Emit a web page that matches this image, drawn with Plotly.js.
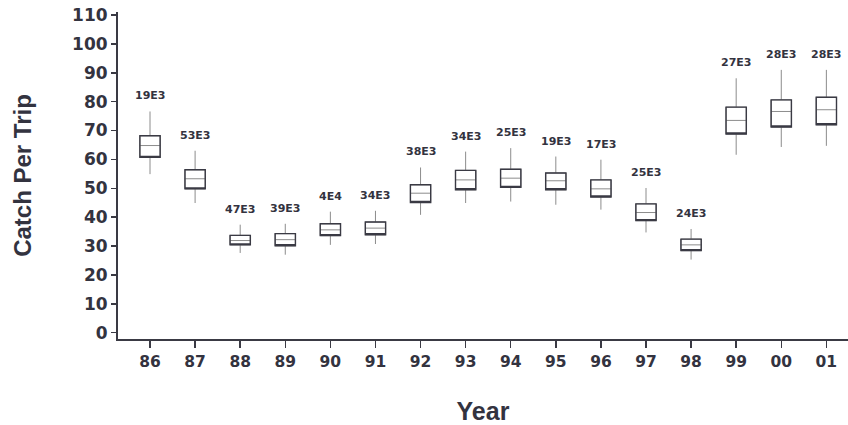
<!DOCTYPE html>
<html>
<head>
<meta charset="utf-8">
<script src="https://cdn.plot.ly/plotly-3.0.1.min.js"></script>
<style>
  html, body { margin: 0; padding: 0; background: #ffffff; }
  #chart { width: 848px; height: 425px; }
</style>
</head>
<body>
<div id="chart"></div>
<script>
// Data
var years   = ['86','87','88','89','90','91','92','93','94','95','96','97','98','99','00','01'];
var upper   = [76.6, 63.0, 37.4, 37.7, 41.9, 42.2, 57.2, 62.7, 63.9, 61.0, 59.9, 50.1, 35.9, 88.1, 91.0, 91.0];
var q3      = [68.2, 56.4, 33.7, 34.3, 37.7, 38.3, 51.2, 56.2, 56.6, 55.3, 52.9, 44.6, 32.4, 78.1, 80.6, 81.5];
var medians = [64.8, 53.3, 31.9, 32.2, 35.6, 36.2, 48.3, 52.9, 53.5, 52.6, 49.8, 41.6, 30.4, 73.5, 76.6, 77.2];
var q1      = [60.7, 49.8, 30.4, 30.1, 33.6, 33.9, 45.1, 49.5, 50.3, 49.5, 47.0, 38.8, 28.4, 68.8, 71.2, 72.0];
var lower   = [54.9, 44.9, 27.6, 27.0, 30.4, 30.7, 40.8, 44.9, 45.4, 44.3, 42.6, 34.7, 25.3, 61.6, 64.3, 64.7];
var nLabels = ['19E3','53E3','47E3','39E3','4E4','34E3','38E3','34E3','25E3','19E3','17E3','25E3','24E3','27E3','28E3','28E3'];
var yTicks  = [0, 10, 20, 30, 40, 50, 60, 70, 80, 90, 100, 110];

var textColor = '#33333f';
var numFont = 'DejaVu Sans, sans-serif';
var titleFont = 'Liberation Sans, Arial, sans-serif';

// Full box: light gray whiskers & median
var boxFull = {
  type: 'box',
  x: years,
  q1: q1, median: medians, q3: q3,
  lowerfence: lower, upperfence: upper,
  width: 0.45,
  whiskerwidth: 0,
  fillcolor: '#ffffff',
  line: { color: '#8c8c8c', width: 1 },
  boxpoints: false,
  hoverinfo: 'skip',
  showlegend: false
};
// Dark outline of the box only (median collapsed onto q1, no whiskers)
var boxOutline = {
  type: 'box',
  x: years,
  q1: q1, median: q1, q3: q3,
  lowerfence: q1, upperfence: q3,
  width: 0.45,
  whiskerwidth: 0,
  fillcolor: 'rgba(0,0,0,0)',
  line: { color: '#3a3a44', width: 1.4 },
  boxpoints: false,
  hoverinfo: 'skip',
  showlegend: false
};

// Sample-size labels above each whisker (x given as the category index)
var annotations = years.map(function (yr, i) {
  return {
    x: i, y: upper[i], xref: 'x', yref: 'y',
    text: nLabels[i], showarrow: false,
    yanchor: 'bottom', yshift: 7,
    font: { family: numFont, size: 11, color: textColor, weight: 'bold' }
  };
});

var layout = {
  width: 848, height: 425,
  margin: { l: 118, r: 0, t: 12, b: 86 },
  paper_bgcolor: '#ffffff', plot_bgcolor: '#ffffff',
  showlegend: false,
  boxmode: 'overlay',
  xaxis: {
    type: 'category',
    range: [-0.71, 15.48],
    showgrid: false, zeroline: false,
    showline: true, linecolor: '#3a3a44', linewidth: 2,
    ticks: 'outside', ticklen: 7, tickwidth: 1.5, tickcolor: '#3a3a44',
    tickfont: { family: numFont, size: 15.5, color: textColor, weight: 'bold' },
    title: { text: 'Year', standoff: 33,
             font: { family: titleFont, size: 25, color: textColor, weight: 'bold' } }
  },
  yaxis: {
    range: [-2.2, 111.05],
    tickvals: yTicks,
    showgrid: false, zeroline: false,
    showline: true, linecolor: '#3a3a44', linewidth: 2,
    ticks: 'outside', ticklen: 5, tickwidth: 1.5, tickcolor: '#3a3a44',
    tickfont: { family: numFont, size: 17, color: textColor, weight: 'bold' },
    title: { text: 'Catch Per Trip', standoff: 34,
             font: { family: titleFont, size: 24, color: textColor, weight: 'bold' } }
  },
  annotations: annotations
};

Plotly.newPlot('chart', [boxFull, boxOutline], layout, { displayModeBar: false, staticPlot: true });
</script>
</body>
</html>
